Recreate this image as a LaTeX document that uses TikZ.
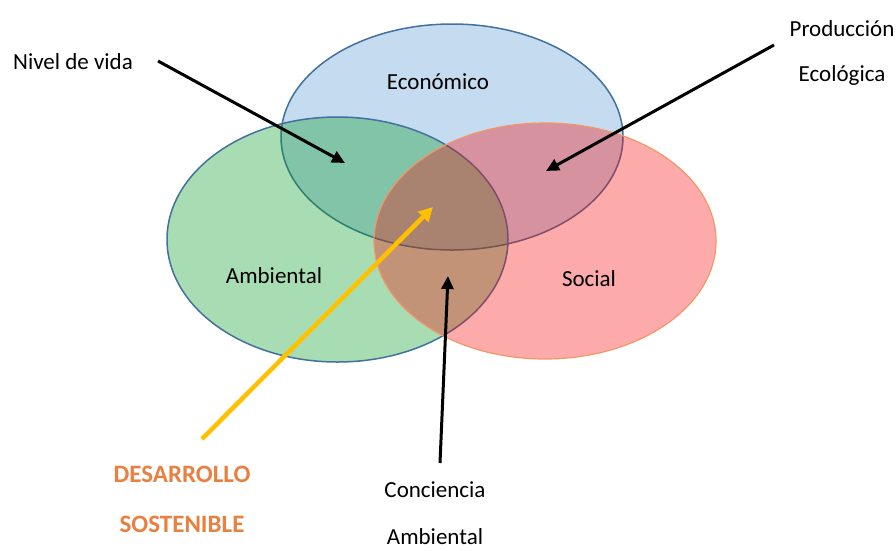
\documentclass[tikz,border=0pt]{standalone}
\usepackage{fontspec}
\setmainfont{Carlito}
\usetikzlibrary{arrows.meta}
\definecolor{ecofill}{RGB}{197,219,239}
\definecolor{ambfill}{RGB}{6,155,35}
\definecolor{socfill}{RGB}{246,12,12}
\definecolor{edgeblue}{RGB}{65,113,156}
\definecolor{edgeorange}{RGB}{242,150,105}
\definecolor{arrowyellow}{RGB}{255,192,0}
\definecolor{textorange}{RGB}{232,128,64}
\tikzset{
  lbl/.style={inner sep=0pt, font=\fontsize{23}{27}\selectfont},
  olbl/.style={lbl, text=textorange, font=\fontsize{25}{29}\selectfont\bfseries},
  blackarrow/.style={line width=3pt, -{Triangle[length=13pt,width=12pt]}},
  yellowarrow/.style={line width=4.5pt, arrowyellow, -{Triangle[length=14pt,width=14pt]}},
}
\begin{document}
\begin{tikzpicture}[x=1pt,y=-1pt]
\useasboundingbox (0,0) rectangle (896,550);
% ellipses
\fill[ecofill] (452,137) ellipse [x radius=171pt, y radius=113pt];
\draw[edgeblue, line width=1.5pt] (452,137) ellipse [x radius=171pt, y radius=113pt];
\fill[ambfill, fill opacity=0.35] (337.5,239.5) ellipse [x radius=170.5pt, y radius=122.5pt];
\draw[edgeblue, line width=1.5pt] (337.5,239.5) ellipse [x radius=170.5pt, y radius=122.5pt];
\fill[socfill, fill opacity=0.35] (545,241) ellipse [x radius=171pt, y radius=118pt];
\draw[edgeorange, line width=1.2pt] (545,241) ellipse [x radius=171pt, y radius=118pt];
% labels
\node[lbl] (eco) at (438,82) {Económico};
\node[lbl] (amb) at (274,276) {Ambiental};
\node[lbl] (soc) at (589,279) {Social};
\node[lbl] (nivel) at (73,62) {Nivel de vida};
\node[lbl] (prod1) at (842,29) {Producción};
\node[lbl] (prod2) at (842,75) {Ecológica};
\node[olbl] (des1) at (182,474) {DESARROLLO};
\node[olbl] (des2) at (182,524) {SOSTENIBLE};
\node[lbl] (con1) at (435,490) {Conciencia};
\node[lbl] (con2) at (435,537) {Ambiental};
% arrow endpoints
\coordinate (nivS) at (158,61);
\coordinate (nivT) at (345,163);
\coordinate (prodS) at (774,45);
\coordinate (prodT) at (546,171);
\coordinate (desS) at (202,439);
\coordinate (desT) at (433,207);
\coordinate (conS) at (440,463);
\coordinate (conT) at (448,276);
\draw[blackarrow] (nivS) -- (nivT);
\draw[blackarrow] (prodS) -- (prodT);
\draw[yellowarrow] (desS) -- (desT);
\draw[blackarrow] (conS) -- (conT);
\end{tikzpicture}
\end{document}
